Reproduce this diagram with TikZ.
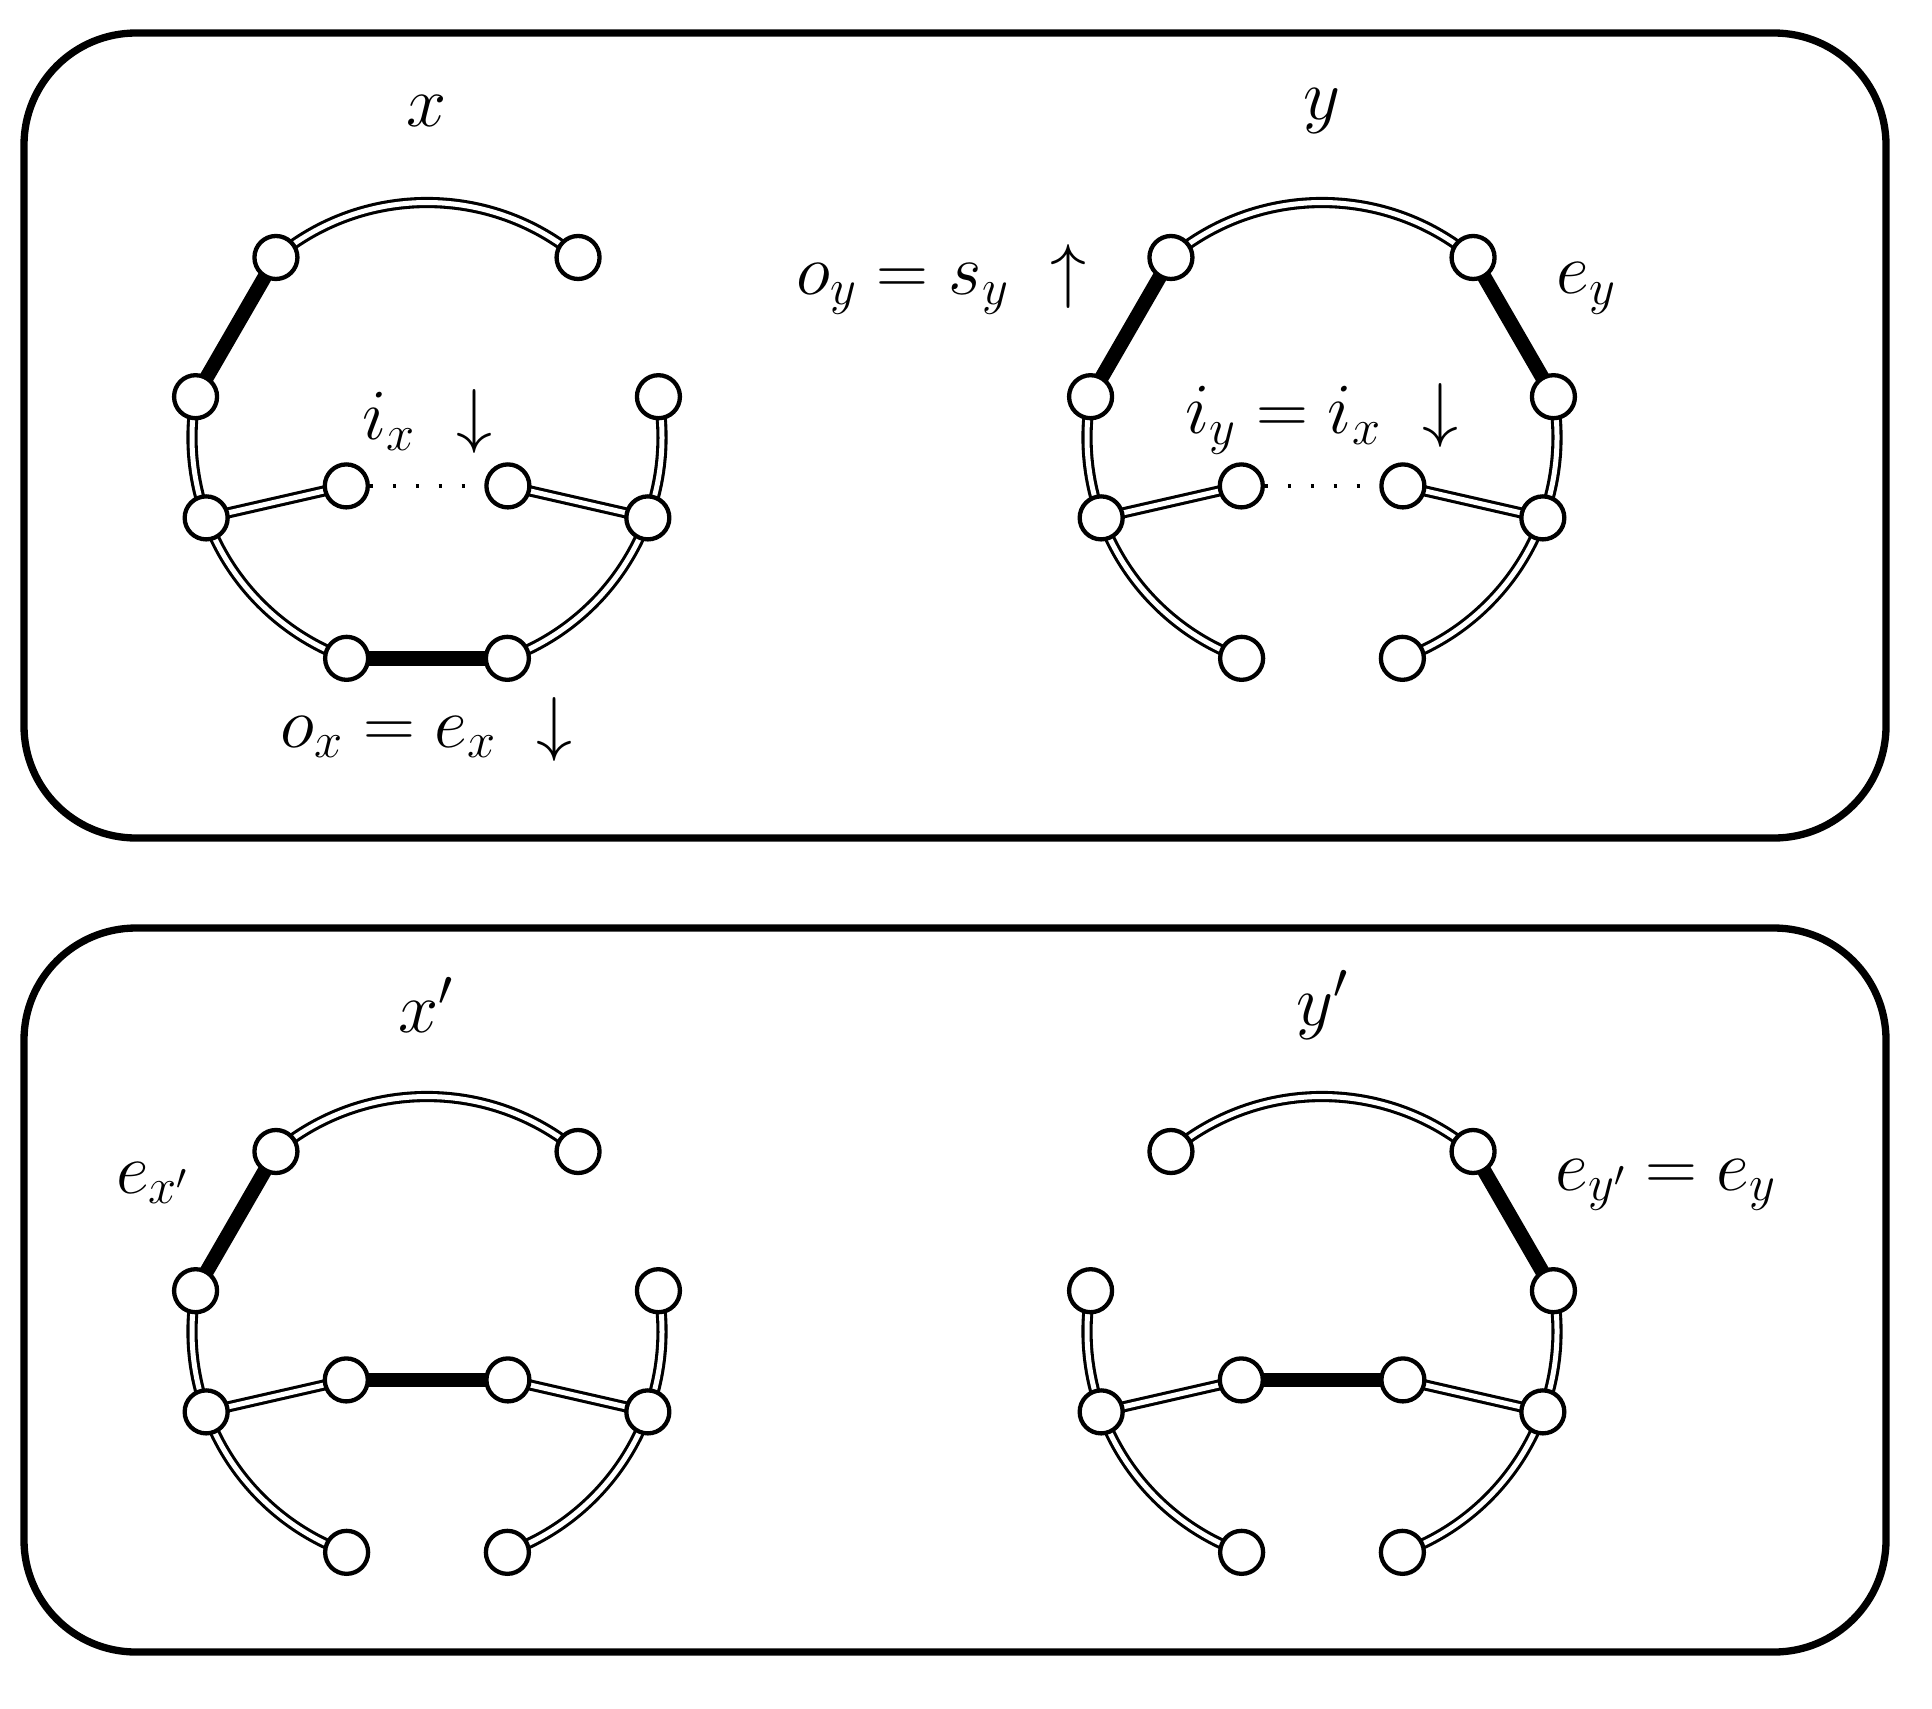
\RequirePackage{fix-cm}
\documentclass[tikz,border=0pt]{standalone}
\pgfdeclarelayer{edges}
\pgfsetlayers{edges,main}
\newcommand\placeverts[1]{%
  \node[vtx] (#1A) at (-130:235) {};
  \node[vtx] (#1B) at (-50:235) {};
  \node[vtx] (#1C) at (-170:235) {};
  \node[vtx] (#1D) at (-10:235) {};
  \node[vtx] (#1E) at (-200:235) {};
  \node[vtx] (#1F) at (20:235) {};
  \node[vtx] (#1I) at (-250:235) {};
  \node[vtx] (#1J) at (70:235) {};
  \node[vtx] (#1G) at (-80.7,48.4) {};
  \node[vtx] (#1H) at (80.9,48.4) {};
}
\newcommand\arcedge[3]{\draw[dbl] (#1.center) arc[start angle=#2, end angle=#3, radius=235];}
\begin{document}
\begin{tikzpicture}[x=1pt,y=-1pt,
  vtx/.style={circle,draw,line width=4.3pt,fill=white,minimum size=43pt,inner sep=0pt},
  dbl/.style={double,line width=3.1pt,double distance=5pt},
  thk/.style={line width=14.5pt},
  dotline/.style={line width=3.2pt,dash pattern=on 3.2pt off 19.7pt},
  panel/.style={line width=7.3pt,rounded corners=112pt},
  lbl/.style={inner sep=0pt,font=\fontsize{72}{86}\selectfont}]
\useasboundingbox (0,0) rectangle (1932,1708);
\draw[panel] (24,33) rectangle (1886,838);
\draw[panel] (24,928) rectangle (1886,1652);

\begin{scope}[shift={(427,437.5)}] \placeverts{x} \end{scope}
\begin{scope}[shift={(1322,437.5)}] \placeverts{y} \end{scope}
\begin{scope}[shift={(427,1331.5)}] \placeverts{p} \end{scope}
\begin{scope}[shift={(1322,1331.5)}] \placeverts{q} \end{scope}

\begin{pgfonlayer}{edges}
% graph x
\arcedge{xA}{-130}{-50}
\arcedge{xC}{-170}{-200}
\arcedge{xE}{-200}{-250}
\arcedge{xD}{-10}{20}
\arcedge{xF}{20}{70}
\draw[thk] (xA.center) -- (xC.center);
\draw[thk] (xI.center) -- (xJ.center);
\draw[dbl] (xE.center) -- (xG.center);
\draw[dbl] (xF.center) -- (xH.center);
\draw[dotline] (xG) -- (xH);
% graph y
\arcedge{yA}{-130}{-50}
\arcedge{yC}{-170}{-200}
\arcedge{yE}{-200}{-250}
\arcedge{yD}{-10}{20}
\arcedge{yF}{20}{70}
\draw[thk] (yA.center) -- (yC.center);
\draw[thk] (yB.center) -- (yD.center);
\draw[dbl] (yE.center) -- (yG.center);
\draw[dbl] (yF.center) -- (yH.center);
\draw[dotline] (yG) -- (yH);
% graph x'
\arcedge{pA}{-130}{-50}
\arcedge{pC}{-170}{-200}
\arcedge{pE}{-200}{-250}
\arcedge{pD}{-10}{20}
\arcedge{pF}{20}{70}
\draw[thk] (pA.center) -- (pC.center);
\draw[thk] (pG.center) -- (pH.center);
\draw[dbl] (pE.center) -- (pG.center);
\draw[dbl] (pF.center) -- (pH.center);
% graph y'
\arcedge{qA}{-130}{-50}
\arcedge{qC}{-170}{-200}
\arcedge{qE}{-200}{-250}
\arcedge{qD}{-10}{20}
\arcedge{qF}{20}{70}
\draw[thk] (qB.center) -- (qD.center);
\draw[thk] (qG.center) -- (qH.center);
\draw[dbl] (qE.center) -- (qG.center);
\draw[dbl] (qF.center) -- (qH.center);
\end{pgfonlayer}

% labels
\node[lbl] (lx) at (427,111) {$x$};
\node[lbl] (ly) at (1322,111) {$y$};
\node[lbl] (lxp) at (426,1005) {$x'$};
\node[lbl] (lyp) at (1322,1005) {$y'$};

\node[lbl,anchor=base west] (ix) at (362,439.5) {$i_x$};
\node[lbl,anchor=base] (ixa) at (474.6,439.5) {$\downarrow$};
\node[lbl,anchor=base west] (iy) at (1185.5,433.7) {$i_y = i_x$};
\node[lbl,anchor=base] (iya) at (1440.4,433.7) {$\downarrow$};
\node[lbl,anchor=base west] (oy) at (796.5,294) {$o_y = s_y$};
\node[lbl,anchor=base] (oya) at (1068,294) {$\uparrow$};
\node[lbl,anchor=base west] (ox) at (280.5,747) {$o_x = e_x$};
\node[lbl,anchor=base] (oxa) at (554,747) {$\downarrow$};
\node[lbl,anchor=base west] (ey) at (1556.5,293.5) {$e_y$};
\node[lbl,anchor=base west] (exp) at (116,1193) {$e_{x'}$};
\node[lbl,anchor=base west] (eyp) at (1555.5,1190) {$e_{y'} = e_y$};
\end{tikzpicture}
\end{document}
